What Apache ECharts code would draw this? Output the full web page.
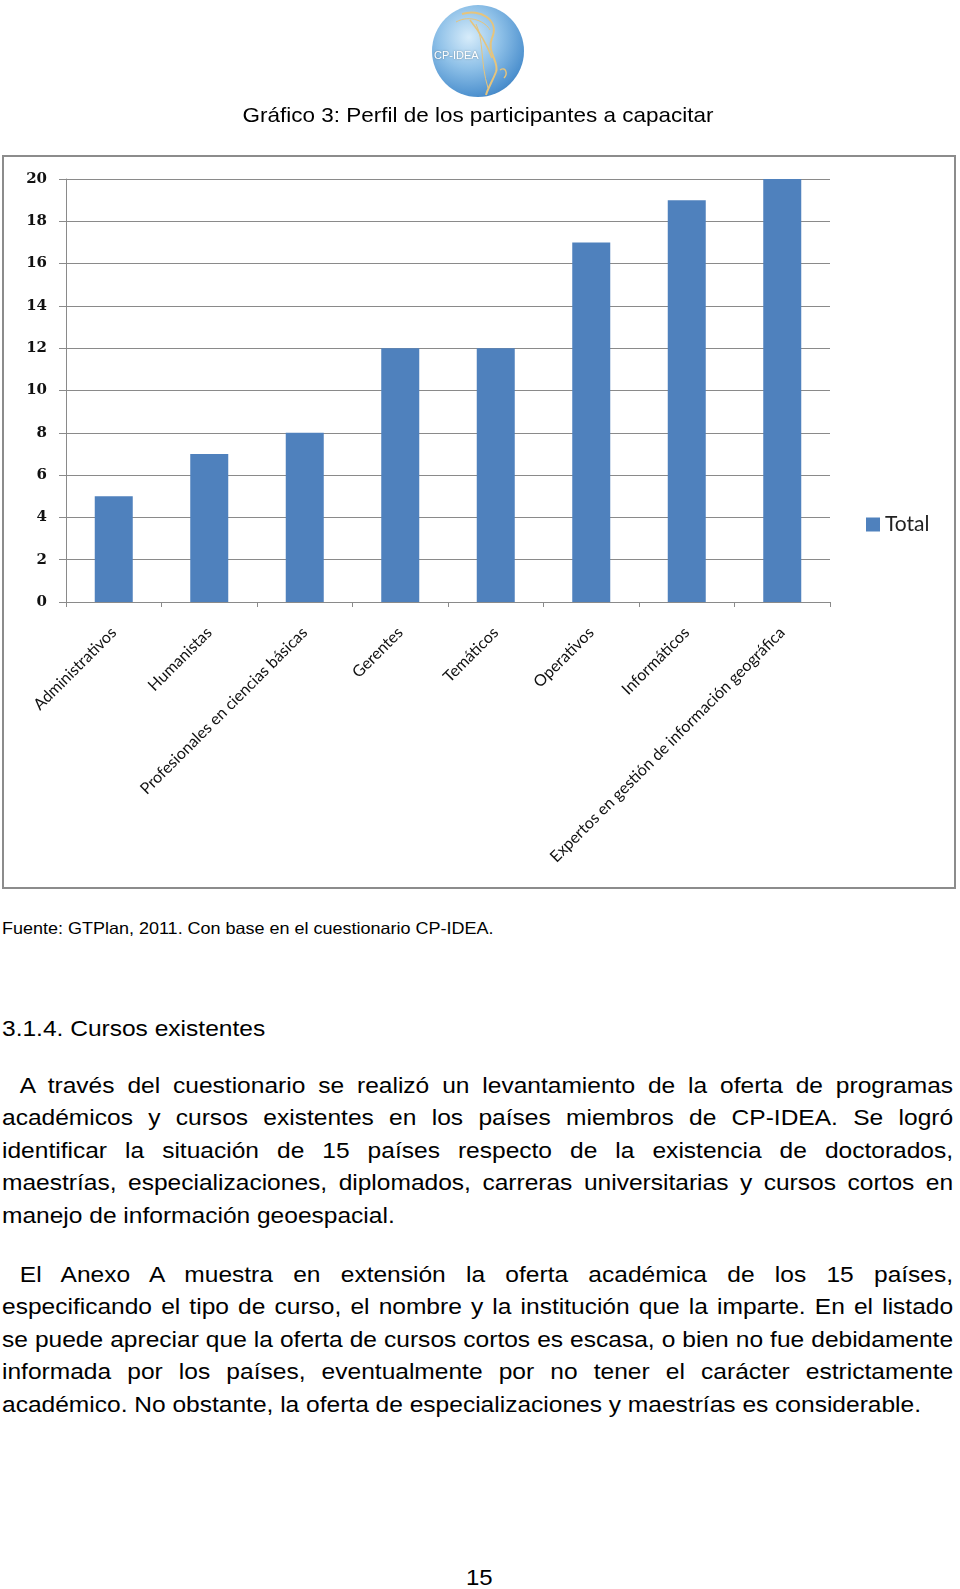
<!DOCTYPE html>
<html>
<head>
<meta charset="utf-8">
<script src="https://cdn.jsdelivr.net/npm/echarts@6/dist/echarts.min.js"></script>
<style>
  html, body { margin: 0; padding: 0; background: #fff; }
  body { width: 960px; height: 1589px; position: relative; overflow: hidden; }
  #chart { position: absolute; left: 0; top: 0; width: 960px; height: 900px; }
  .txt { position: absolute; left: 2px; font-family: "Liberation Sans", Arial, sans-serif; color: #000;
         transform-origin: 0 0; white-space: nowrap; }
  .wide { transform: scaleX(1.115); }
  .para { width: 853px; font-size: 22px; line-height: 32.4px; white-space: normal; }
  .para div { text-align: justify; text-align-last: justify; white-space: nowrap; word-spacing: -2px; }
  .para div.last { text-align-last: left; word-spacing: 0; }
  .para div.ind { padding-left: 16px; }
</style>
</head>
<body>
<div id="chart"></div>

<div class="txt" style="top:918px; font-size:16.5px; line-height:20px; transform: scaleX(1.09);">Fuente: GTPlan, 2011. Con base en el cuestionario CP-IDEA.</div>
<div class="txt wide" style="top:1014px; font-size:22px; line-height:30px;">3.1.4. Cursos existentes</div>

<div class="txt wide para" style="top:1070px;">
  <div class="ind">A través del cuestionario se realizó un levantamiento de la oferta de programas</div>
  <div>académicos y cursos existentes en los países miembros de CP-IDEA. Se logró</div>
  <div>identificar la situación de 15 países respecto de la existencia de doctorados,</div>
  <div>maestrías, especializaciones, diplomados, carreras universitarias y cursos cortos en</div>
  <div class="last">manejo de información geoespacial.</div>
</div>

<div class="txt wide para" style="top:1259px;">
  <div class="ind">El Anexo A muestra en extensión la oferta académica de los 15 países,</div>
  <div>especificando el tipo de curso, el nombre y la institución que la imparte. En el listado</div>
  <div>se puede apreciar que la oferta de cursos cortos es escasa, o bien no fue debidamente</div>
  <div>informada por los países, eventualmente por no tener el carácter estrictamente</div>
  <div class="last">académico. No obstante, la oferta de especializaciones y maestrías es considerable.</div>
</div>

<div class="txt" style="top:1563px; left:466px; font-size:22px; line-height:30px; transform: scaleX(1.09);">15</div>

<script>
// ---- data ----
var categories = [
  "Administrativos",
  "Humanistas",
  "Profesionales en ciencias básicas",
  "Gerentes",
  "Temáticos",
  "Operativos",
  "Informáticos",
  "Expertos en gestión de información geográfica"
];
var totalValues = [5, 7, 8, 12, 12, 17, 19, 20];
var seriesName = "Total";
var yTicks = { min: 0, max: 20, step: 2 };
var chartTitle = "Gráfico 3: Perfil de los participantes a capacitar";

var chart = echarts.init(document.getElementById('chart'), null, { renderer: 'canvas' });
var gridColor = '#8a8a8a';
var gold = '#e6c47c';

var option = {
  animation: false,
  backgroundColor: '#fff',
  legend: {
    data: [seriesName],
    left: 861, top: 509,
    icon: 'rect', itemWidth: 14, itemHeight: 14, itemGap: 6,
    textStyle: { fontFamily: 'Lato', fontSize: 21, color: '#222' }
  },
  grid: { left: 66, top: 179, width: 764, height: 423 },
  xAxis: {
    type: 'category',
    data: categories,
    axisLine: { lineStyle: { color: gridColor, width: 1 } },
    axisTick: { show: true, length: 5, alignWithLabel: false, lineStyle: { color: gridColor } },
    axisLabel: { interval: 0, rotate: 45, margin: 28, fontFamily: 'Lato', fontSize: 16, color: '#111' }
  },
  yAxis: {
    type: 'value',
    min: yTicks.min, max: yTicks.max, interval: yTicks.step,
    axisLine: { show: true, lineStyle: { color: gridColor, width: 1 } },
    axisTick: { show: true, length: 7, lineStyle: { color: gridColor } },
    axisLabel: { margin: 19, fontFamily: 'DejaVu Serif', fontWeight: 'bold', fontSize: 15, color: '#111' },
    splitLine: { show: true, lineStyle: { color: gridColor, width: 1 } }
  },
  series: [{
    name: seriesName,
    type: 'bar',
    data: totalValues,
    barWidth: 38,
    itemStyle: { color: '#4f81bd' }
  }],
  graphic: [
    // chart frame
    { type: 'rect', shape: { x: 3, y: 156, width: 952, height: 732 },
      style: { fill: 'none', stroke: '#8c8c8c', lineWidth: 2 }, z: 10 },
    // title
    { type: 'text', x: 478, y: 116, scaleX: 1.07,
      style: { text: chartTitle, textAlign: 'center', textVerticalAlign: 'middle',
               font: '21px "Liberation Sans", Arial, sans-serif', fill: '#000' } },
    // logo globe
    { type: 'circle', shape: { cx: 478, cy: 51, r: 46 },
      style: { fill: { type: 'radial', x: 0.4, y: 0.35, r: 0.75,
        colorStops: [ { offset: 0, color: '#d7ecfa' }, { offset: 0.45, color: '#8fc1e8' },
                      { offset: 0.85, color: '#4f92cf' }, { offset: 1, color: '#3b7cbc' } ] } } },
    { type: 'bezierCurve', shape: { x1: 462, y1: 14, cpx1: 480, cpy1: 8, cpx2: 500, cpy2: 20, x2: 492, y2: 38 },
      style: { stroke: gold, lineWidth: 2, fill: 'none' } },
    { type: 'bezierCurve', shape: { x1: 470, y1: 20, cpx1: 478, cpy1: 30, cpx2: 486, cpy2: 42, x2: 492, y2: 58 },
      style: { stroke: gold, lineWidth: 1.6, fill: 'none' } },
    { type: 'bezierCurve', shape: { x1: 492, y1: 38, cpx1: 486, cpy1: 52, cpx2: 500, cpy2: 62, x2: 496, y2: 72 },
      style: { stroke: gold, lineWidth: 2, fill: 'none' } },
    { type: 'bezierCurve', shape: { x1: 496, y1: 72, cpx1: 492, cpy1: 82, cpx2: 488, cpy2: 88, x2: 486, y2: 95 },
      style: { stroke: gold, lineWidth: 2, fill: 'none' } },
    { type: 'bezierCurve', shape: { x1: 476, y1: 24, cpx1: 484, cpy1: 40, cpx2: 480, cpy2: 62, x2: 488, y2: 88 },
      style: { stroke: gold, lineWidth: 1, fill: 'none' } },
    { type: 'bezierCurve', shape: { x1: 456, y1: 22, cpx1: 470, cpy1: 14, cpx2: 486, cpy2: 22, x2: 490, y2: 30 },
      style: { stroke: gold, lineWidth: 1, fill: 'none' } },
    { type: 'bezierCurve', shape: { x1: 500, y1: 70, cpx1: 506, cpy1: 66, cpx2: 508, cpy2: 74, x2: 504, y2: 78 },
      style: { stroke: gold, lineWidth: 1.4, fill: 'none' } },
    { type: 'text', x: 434, y: 56,
      style: { text: 'CP-IDEA', textAlign: 'left', textVerticalAlign: 'middle',
               font: '11px "Liberation Sans", Arial, sans-serif', fill: '#ffffff',
               textShadowColor: 'rgba(0,0,0,0.35)', textShadowBlur: 2 } }
  ]
};
chart.setOption(option);
</script>
</body>
</html>
